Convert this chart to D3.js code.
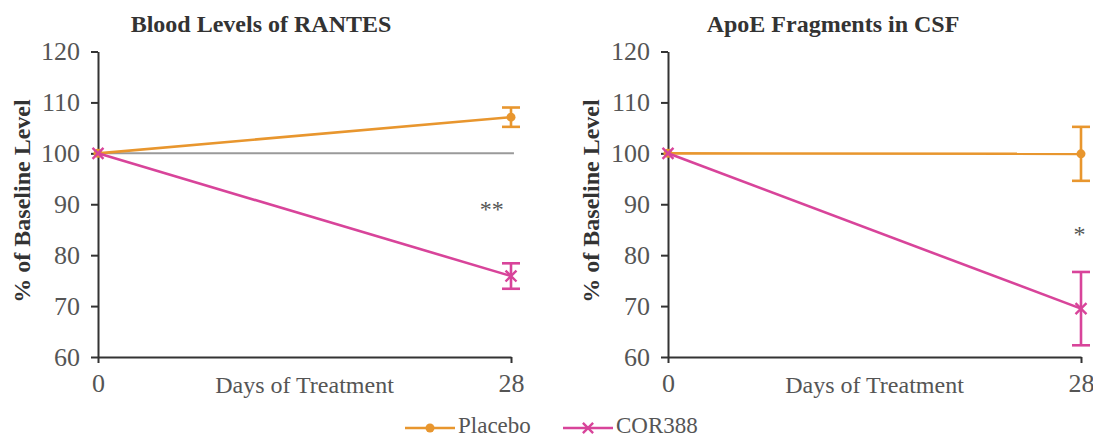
<!DOCTYPE html>
<html>
<head>
<meta charset="utf-8">
<script src="https://cdn.jsdelivr.net/npm/d3@7"></script>
<style>
body { margin: 0; background: #fff; }
text { font-family: "Liberation Serif", "Times New Roman", serif; }
</style>
</head>
<body>
<div id="chart"></div>
<script>
// data
var days = [0, 28];
var yTicks = [60, 70, 80, 90, 100, 110, 120];
var seriesNames = ["Placebo", "COR388"];
var seriesColors = ["#e8962e", "#d8449a"];

var titles = ["Blood Levels of RANTES", "ApoE Fragments in CSF"];
var rantesPlacebo = [100, 107.1];
var rantesPlaceboErr = [0, 1.9];
var rantesCor = [100, 75.9];
var rantesCorErr = [0, 2.5];
var apoePlacebo = [100, 99.9];
var apoePlaceboErr = [0, 5.3];
var apoeCor = [100, 69.5];
var apoeCorErr = [0, 7.2];
var stars = ["**", "*"];
var starDay = [26.7, 27.9];
var starValue = [90, 85.2];

var W = 1093, H = 439;
var svg = d3.select("#chart").append("svg").attr("width", W).attr("height", H);

var panels = [
    {title: titles[0], left: 98, right: 511, titleX: 261, labelX: 22, star: 0, baseline: true,
     series: [{v: rantesPlacebo, e: rantesPlaceboErr}, {v: rantesCor, e: rantesCorErr}]},
    {title: titles[1], left: 668, right: 1081, titleX: 833, labelX: 591, star: 1, baseline: false,
     series: [{v: apoePlacebo, e: apoePlaceboErr}, {v: apoeCor, e: apoeCorErr}]}
];

var plotTop = 51.5, plotBottom = 357;

function draw_panel(p) {
    var g = svg.append("g");
    var x = d3.scaleLinear().domain([0, 28]).range([p.left, p.right]);
    var y = d3.scaleLinear().domain([60, 120]).range([plotBottom, plotTop]);

    // title
    g.append("text").attr("x", p.titleX).attr("y", 32).attr("text-anchor", "middle")
        .attr("font-size", 24).attr("font-weight", "bold").attr("fill", "#333").text(p.title);

    // y label
    g.append("text").attr("transform", "translate(" + (p.labelX + 8) + ",201) rotate(-90)")
        .attr("text-anchor", "middle").attr("font-size", 24).attr("font-weight", "bold")
        .attr("fill", "#333").text("% of Baseline Level");

    // y axis
    var ya = g.append("g").attr("transform", "translate(" + p.left + ",0)")
        .call(d3.axisLeft(y).tickValues(yTicks).tickSize(7).tickPadding(11).tickSizeOuter(0));
    ya.select(".domain").attr("stroke", "#333").attr("stroke-width", 2);
    ya.selectAll(".tick line").attr("stroke", "#333").attr("stroke-width", 2);
    ya.selectAll(".tick text").attr("font-size", 26).attr("fill", "#555")
        .attr("font-family", "Liberation Serif, serif");

    // x axis
    var xa = g.append("g").attr("transform", "translate(0," + plotBottom + ")")
        .call(d3.axisBottom(x).tickValues(days).tickSize(6).tickPadding(11).tickSizeOuter(0));
    xa.select(".domain").attr("stroke", "#333").attr("stroke-width", 2);
    xa.selectAll(".tick line").attr("stroke", "#333").attr("stroke-width", 2);
    xa.selectAll(".tick text").attr("font-size", 26).attr("fill", "#555")
        .attr("font-family", "Liberation Serif, serif");

    g.append("text").attr("x", (p.left + p.right) / 2).attr("y", 393).attr("text-anchor", "middle")
        .attr("font-size", 24).attr("fill", "#555").text("Days of Treatment");

    // reference line at baseline
    if (p.baseline) {
        g.append("line").attr("x1", x(0)).attr("x2", x(28.2)).attr("y1", y(100)).attr("y2", y(100))
            .attr("stroke", "#9a9a9a").attr("stroke-width", 2);
    }

    var line = d3.line().x(function(d, i) { return x(days[i]); }).y(function(d) { return y(d); });

    p.series.forEach(function(s, k) {
        var col = seriesColors[k];
        g.append("path").datum(s.v).attr("d", line).attr("fill", "none")
            .attr("stroke", col).attr("stroke-width", 2.6);

        // error bars
        days.forEach(function(d, i) {
            if (s.e[i] == 0) return;
            var cx = x(d);
            g.append("line").attr("x1", cx).attr("x2", cx).attr("y1", y(s.v[i] - s.e[i])).attr("y2", y(s.v[i] + s.e[i]))
                .attr("stroke", col).attr("stroke-width", 2.6);
            [s.v[i] - s.e[i], s.v[i] + s.e[i]].forEach(function(v) {
                g.append("line").attr("x1", cx - 9).attr("x2", cx + 9).attr("y1", y(v)).attr("y2", y(v))
                    .attr("stroke", col).attr("stroke-width", 2.6);
            });
        });

        // markers
        days.forEach(function(d, i) {
            if (k == 0) {
                g.append("circle").attr("cx", x(d)).attr("cy", y(s.v[i])).attr("r", 4.5).attr("fill", col);
            } else {
                g.append("path").attr("d", d3.symbol().type(d3.symbolX).size(80)())
                    .attr("transform", "translate(" + x(d) + "," + y(s.v[i]) + ")")
                    .attr("fill", "none").attr("stroke", col).attr("stroke-width", 2.4);
            }
        });
    });

    // significance stars
    g.append("text").attr("x", x(starDay[p.star])).attr("y", y(starValue[p.star]) + 13)
        .attr("text-anchor", "middle").attr("font-size", 24).attr("fill", "#555").text(stars[p.star]);
}

panels.forEach(draw_panel);

// legend
var legX = [405, 563];
var legend = svg.append("g");
seriesNames.forEach(function(name, k) {
    var lx = legX[k], ly = 428;
    legend.append("line").attr("x1", lx).attr("x2", lx + 50).attr("y1", ly).attr("y2", ly)
        .attr("stroke", seriesColors[k]).attr("stroke-width", 2.6);
    if (k == 0) {
        legend.append("circle").attr("cx", lx + 25).attr("cy", ly).attr("r", 4.5).attr("fill", seriesColors[k]);
    } else {
        legend.append("path").attr("d", d3.symbol().type(d3.symbolX).size(70)())
            .attr("transform", "translate(" + (lx + 25) + "," + ly + ")")
            .attr("fill", "none").attr("stroke", seriesColors[k]).attr("stroke-width", 2.4);
    }
    legend.append("text").attr("x", lx + 53).attr("y", 433).attr("font-size", 23).attr("fill", "#555").text(name);
});
</script>
</body>
</html>
